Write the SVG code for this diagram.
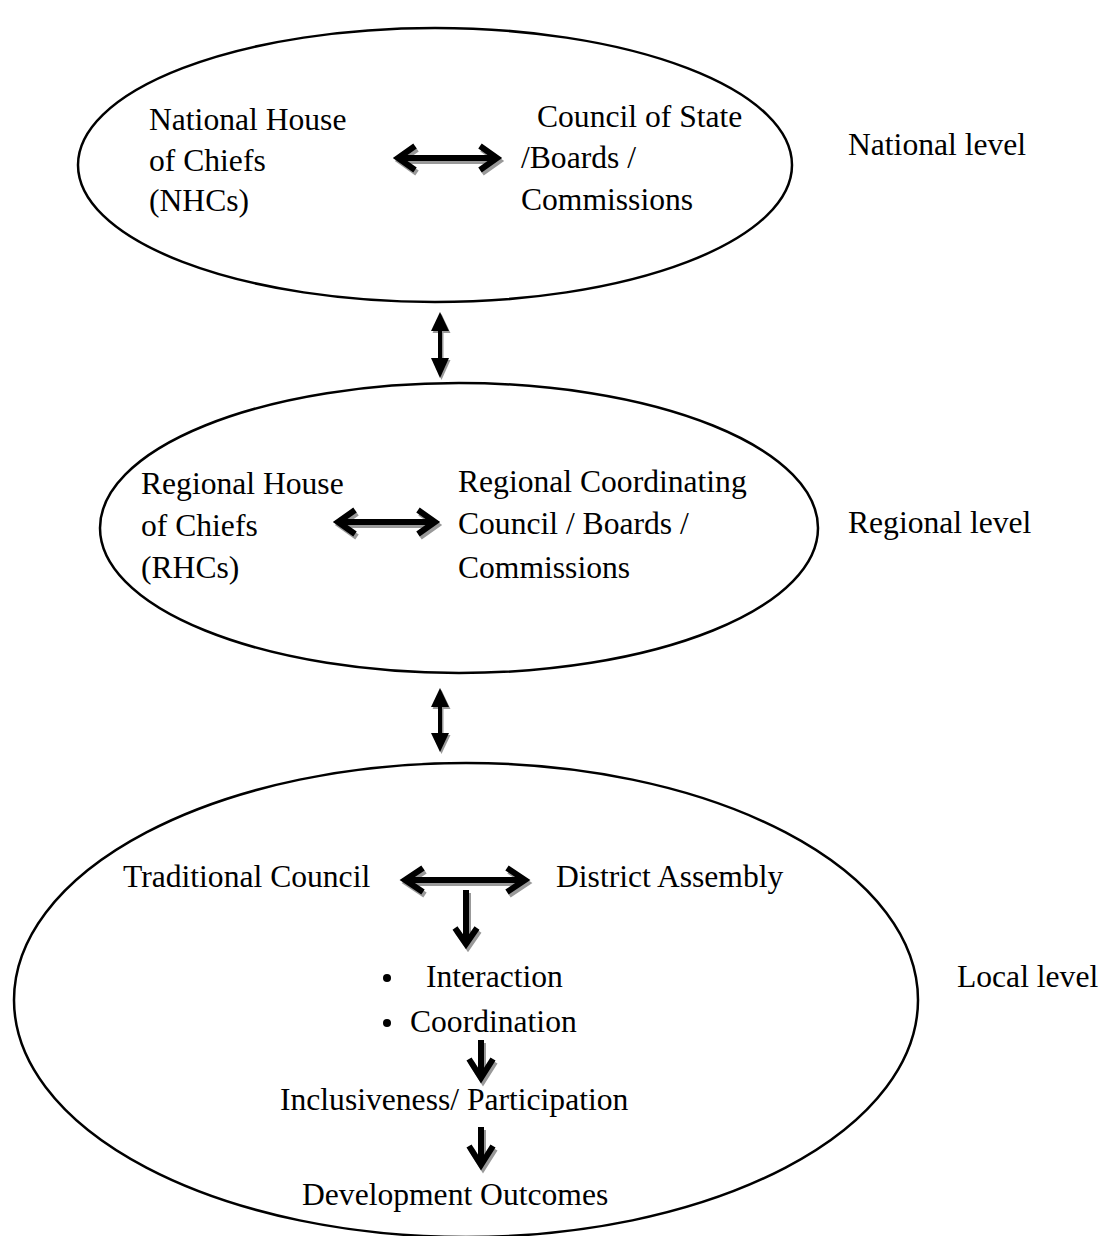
<svg xmlns="http://www.w3.org/2000/svg" width="1113" height="1236" viewBox="0 0 1113 1236">
  <style>
    text { font-family: "Liberation Serif", "Times New Roman", serif; font-size: 31.6px; fill: #000; }
    .ell { fill: none; stroke: #000; stroke-width: 2.5; }
    .arr { fill: none; stroke: #000; stroke-width: 6; stroke-linejoin: miter; stroke-miterlimit: 4; }
    .shd { fill: none; stroke: #999; stroke-width: 6; stroke-linejoin: miter; stroke-miterlimit: 4; }
    .thin { stroke: #000; stroke-width: 4; fill: none; }
    .thin-shd { stroke: #999; stroke-width: 4; fill: none; }
    .head { fill: #000; }
    .head-shd { fill: #999; }
  </style>

  <!-- National level -->
  <g id="national">
    <ellipse class="ell" cx="435" cy="165" rx="357" ry="137"/>
    <text x="149" y="130">National House</text>
    <text x="149" y="171">of Chiefs</text>
    <text x="149" y="211">(NHCs)</text>
    <text x="537" y="127">Council of State</text>
    <text x="521" y="168">/Boards /</text>
    <text x="521" y="210">Commissions</text>
  </g>
  <g id="national-label"><text x="848" y="155">National level</text></g>

  <!-- Regional level -->
  <g id="regional">
    <ellipse class="ell" cx="459" cy="528" rx="359" ry="145"/>
    <text x="141" y="494">Regional House</text>
    <text x="141" y="536">of Chiefs</text>
    <text x="141" y="578">(RHCs)</text>
    <text x="458" y="492">Regional Coordinating</text>
    <text x="458" y="534">Council / Boards /</text>
    <text x="458" y="578">Commissions</text>
  </g>
  <g id="regional-label"><text x="848" y="533">Regional level</text></g>

  <!-- Local level -->
  <g id="local">
    <ellipse class="ell" cx="466" cy="1000" rx="452" ry="237"/>
    <text x="123" y="887">Traditional Council</text>
    <text x="556" y="887">District Assembly</text>
    <circle cx="387" cy="978" r="4"/>
    <text x="426" y="987">Interaction</text>
    <circle cx="387" cy="1023" r="4"/>
    <text x="410" y="1032">Coordination</text>
    <text x="280" y="1110">Inclusiveness/ Participation</text>
    <text x="302" y="1205">Development Outcomes</text>
  </g>
  <g id="local-label"><text x="957" y="987">Local level</text></g>

  <!-- Connectors -->
  <g id="connectors">
    <!-- NHCs <-> Council of State -->
    <g transform="translate(2,3)">
      <path class="shd" d="M398 158 H496 M415 146 L398 158 L415 170 M480 146 L497 158 L480 170"/>
    </g>
    <path class="arr" d="M398 158 H496 M415 146 L398 158 L415 170 M480 146 L497 158 L480 170"/>

    <!-- National <-> Regional -->
    <g transform="translate(1.5,2)">
      <line class="thin-shd" x1="440" y1="328" x2="440" y2="360"/>
      <polygon class="head-shd" points="440,312 431,331 449,331"/>
      <polygon class="head-shd" points="440,378 431,358 449,358"/>
    </g>
    <line class="thin" x1="440" y1="328" x2="440" y2="360"/>
    <polygon class="head" points="440,312 431,331 449,331"/>
    <polygon class="head" points="440,378 431,358 449,358"/>

    <!-- RHCs <-> Regional Coordinating Council -->
    <g transform="translate(2,3)">
      <path class="shd" d="M338 522 H435 M355 510 L338 522 L355 534 M418 510 L435 522 L418 534"/>
    </g>
    <path class="arr" d="M338 522 H435 M355 510 L338 522 L355 534 M418 510 L435 522 L418 534"/>

    <!-- Regional <-> Local -->
    <g transform="translate(1.5,2)">
      <line class="thin-shd" x1="440" y1="704" x2="440" y2="736"/>
      <polygon class="head-shd" points="440,688 431,707 449,707"/>
      <polygon class="head-shd" points="440,752 431,733 449,733"/>
    </g>
    <line class="thin" x1="440" y1="704" x2="440" y2="736"/>
    <polygon class="head" points="440,688 431,707 449,707"/>
    <polygon class="head" points="440,752 431,733 449,733"/>

    <!-- Traditional Council <-> District Assembly -->
    <g transform="translate(2,3)">
      <path class="shd" d="M404 880 H525 M423 868 L405 880 L423 892 M507 868 L525 880 L507 892"/>
    </g>
    <path class="arr" d="M404 880 H525 M423 868 L405 880 L423 892 M507 868 L525 880 L507 892"/>

    <!-- Down to Interaction / Coordination -->
    <g transform="translate(2,3)">
      <path class="shd" d="M466 890 V943 M455 928 L466 944 L477 928"/>
    </g>
    <path class="arr" d="M466 890 V943 M455 928 L466 944 L477 928"/>

    <!-- Down to Inclusiveness / Participation -->
    <g transform="translate(2,3)">
      <path class="shd" d="M481 1040 V1077 M469 1059 L481 1078 L493 1059"/>
    </g>
    <path class="arr" d="M481 1040 V1077 M469 1059 L481 1078 L493 1059"/>

    <!-- Down to Development Outcomes -->
    <g transform="translate(2,3)">
      <path class="shd" d="M481 1127 V1164 M469 1146 L481 1165 L493 1146"/>
    </g>
    <path class="arr" d="M481 1127 V1164 M469 1146 L481 1165 L493 1146"/>
  </g>
</svg>
